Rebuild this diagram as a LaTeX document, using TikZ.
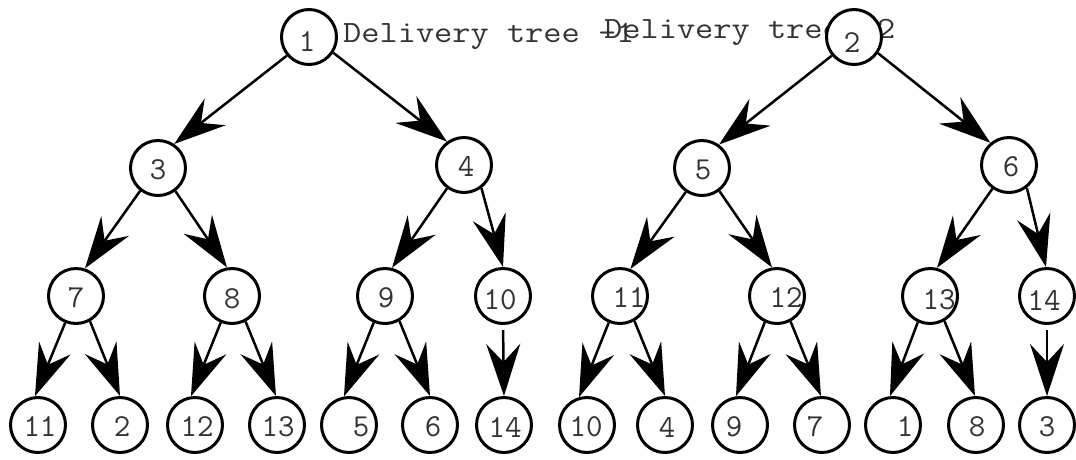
\documentclass[tikz,border=0pt]{standalone}
\usepackage{fontspec}
\newfontfamily\lblfont{Latin Modern Mono}
\newfontfamily\ttlfont{Latin Modern Mono}[FakeStretch=1.14]
\usetikzlibrary{arrows.meta}
\begin{document}
\begin{tikzpicture}[x=1pt,y=-1pt,
  nd/.style={circle,draw=black,line width=3pt,fill=white,minimum size=55pt,inner sep=0pt},
  lbl/.style={font=\lblfont\fontsize{32}{32}\selectfont,text=black!80,inner sep=0pt},
  ttl/.style={font=\ttlfont\fontsize{31}{31}\selectfont,text=black!80,inner sep=0pt,anchor=base west},
  edge/.style={line width=2.5pt,-{Stealth[length=52pt,width=34pt,inset=18pt]}},
]
\useasboundingbox (0,0) rectangle (1076,459);
% titles
\node[ttl] (t1) at (343,42) {Delivery tree -1};
\node[ttl] (t2) at (604,38) {Delivery tree -2};
% level 0
\node[nd,label={[lbl,xshift=-2pt,yshift=-5pt]center:1}] (a1) at (309,37) {};
\node[nd,label={[lbl,xshift=-2pt,yshift=-6pt]center:2}] (a2) at (854,37) {};
% level 1
\node[nd,label={[lbl,yshift=-2pt]center:3}] (b3) at (158,168) {};
\node[nd,label={[lbl,xshift=2pt,yshift=-1pt]center:4}] (b4) at (464,165) {};
\node[nd,label={[lbl,xshift=1pt,yshift=-2pt]center:5}] (b5) at (702,168) {};
\node[nd,label={[lbl,xshift=2pt,yshift=-2pt]center:6}] (b6) at (1009,165) {};
% level 2
\node[nd,label={[lbl,yshift=-2pt]center:7}] (c7) at (76,296) {};
\node[nd,label={[lbl,yshift=-3pt]center:8}] (c8) at (232,296) {};
\node[nd,label={[lbl,xshift=1pt,yshift=-2pt]center:9}] (c9) at (385,296) {};
\node[nd,label={[lbl,xshift=-3pt,yshift=-4pt]center:10}] (c10) at (503,296) {};
\node[nd,label={[lbl,xshift=9pt,yshift=-2pt]center:11}] (c11) at (620,296) {};
\node[nd,label={[lbl,xshift=9pt,yshift=-2pt]center:12}] (c12) at (777,296) {};
\node[nd,label={[lbl,xshift=9pt,yshift=-4pt]center:13}] (c13) at (930,296) {};
\node[nd,label={[lbl,xshift=-3pt,yshift=-4pt]center:14}] (c14) at (1047,296) {};
% leaves
\node[nd,label={[lbl,xshift=2pt,yshift=-2pt]center:11}] (p11) at (38,425) {};
\node[nd,label={[lbl,xshift=2pt,yshift=-2pt]center:2}] (p2) at (120,425) {};
\node[nd,label={[lbl,xshift=2pt,yshift=-2pt]center:12}] (p12) at (195,425) {};
\node[nd,label={[lbl,xshift=1pt,yshift=-2pt]center:13}] (p13) at (277,425) {};
\node[nd,label={[lbl,xshift=12pt,yshift=-2pt]center:5}] (p5) at (349,425) {};
\node[nd,label={[lbl,xshift=3pt,yshift=-2pt]center:6}] (p6) at (430,425) {};
\node[nd,label={[lbl,xshift=1pt,yshift=-2pt]center:14}] (p14) at (504,425) {};
\node[nd,label={[lbl,xshift=-1pt,yshift=-2pt]center:10}] (q10) at (587,425) {};
\node[nd,label={[lbl,xshift=2pt,yshift=-2pt]center:4}] (q4) at (665,425) {};
\node[nd,label={[lbl,xshift=-6pt,yshift=-2pt]center:9}] (q9) at (740,425) {};
\node[nd,label={[lbl,xshift=-7pt,yshift=-2pt]center:7}] (q7) at (822,425) {};
\node[nd,label={[lbl,xshift=12pt,yshift=-2pt]center:1}] (q1) at (893,425) {};
\node[nd,label={[lbl,xshift=1pt,yshift=-2pt]center:8}] (q8) at (976,425) {};
\node[nd,label={[lbl,yshift=-2pt]center:3}] (q3) at (1047,425) {};
% edges tree 1
\draw[edge] (a1.220) -- (b3.56);
\draw[edge] (a1.327) -- (b4.126);
\draw[edge] (b3.232) -- (c7.72);
\draw[edge] (b3.307) -- (c8.100);
\draw[edge] (b4.234) -- (c9.76);
\draw[edge] (b4.307) -- (c10.90);
\draw[edge] (c7.248) -- (p11.96);
\draw[edge] (c7.299) -- (p2.90);
\draw[edge] (c8.247) -- (p12.98);
\draw[edge] (c8.298) -- (p13.92);
\draw[edge] (c9.247) -- (p5.100);
\draw[edge] (c9.300) -- (p6.90);
\draw[edge,shorten <=5pt] (c10.south) -- (p14.north);
% edges tree 2
\draw[edge] (a2.220) -- (b5.54);
\draw[edge] (a2.326) -- (b6.130);
\draw[edge] (b5.236) -- (c11.69);
\draw[edge] (b5.307) -- (c12.100);
\draw[edge] (b6.235) -- (c13.76);
\draw[edge] (b6.308) -- (c14.92);
\draw[edge] (c11.247) -- (q10.106);
\draw[edge] (c11.300) -- (q4.90);
\draw[edge] (c12.245) -- (q9.98);
\draw[edge] (c12.298) -- (q7.92);
\draw[edge] (c13.245) -- (q1.96);
\draw[edge] (c13.300) -- (q8.92);
\draw[edge,shorten <=5pt] (c14.south) -- (q3.north);
\end{tikzpicture}
\end{document}
